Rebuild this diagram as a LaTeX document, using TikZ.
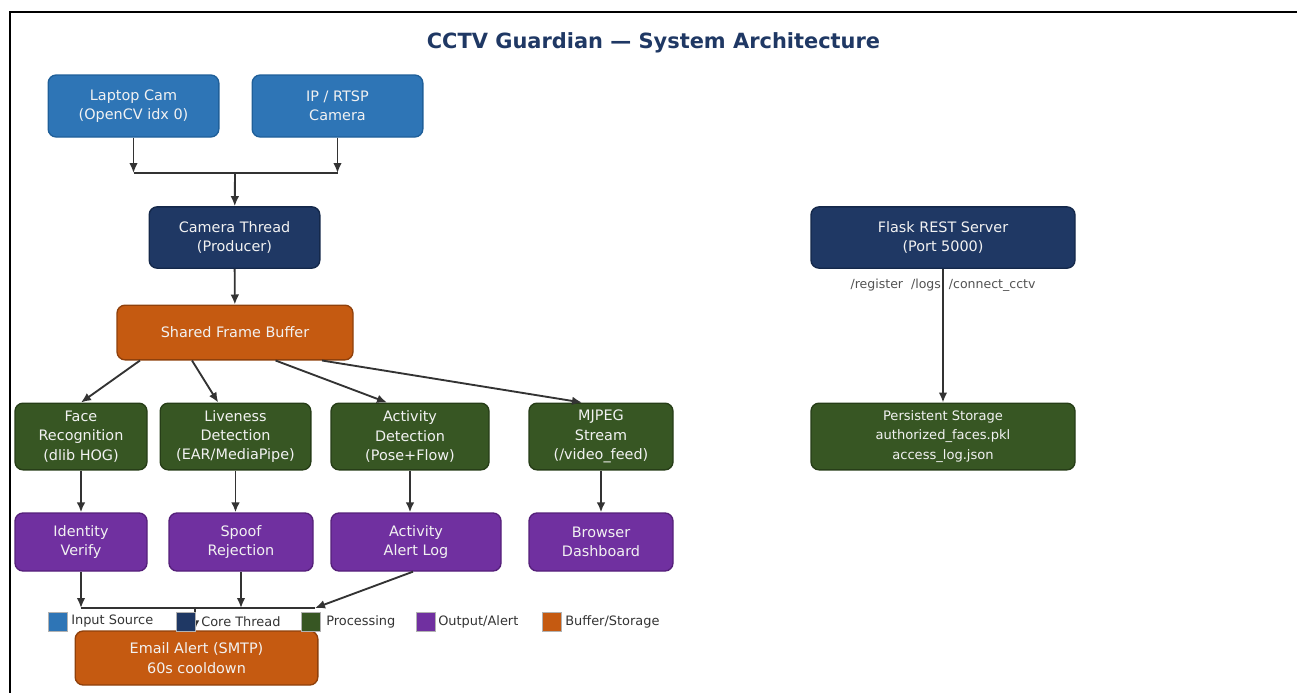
\documentclass[tikz,border=0pt]{standalone}
\usepackage{fontspec}
\setmainfont{DejaVu Sans}
\usetikzlibrary{arrows.meta}

\definecolor{insrc}{HTML}{2E75B6}
\definecolor{insrcd}{HTML}{1F5F99}
\definecolor{core}{HTML}{1F3864}
\definecolor{cored}{HTML}{14284A}
\definecolor{proc}{HTML}{375623}
\definecolor{procd}{HTML}{263D17}
\definecolor{outp}{HTML}{7030A0}
\definecolor{outpd}{HTML}{55207A}
\definecolor{buff}{HTML}{C55A11}
\definecolor{buffd}{HTML}{8F400B}
\definecolor{arrc}{HTML}{333333}

\begin{document}
\begin{tikzpicture}[x=0.75pt, y=-0.75pt,
  box/.style={draw, rounded corners=6pt, line width=1pt, text=white!95!black, align=center,
    inner sep=0pt, font=\fontsize{10.8}{14.6}\selectfont},
  src/.style={box, fill=insrc, draw=insrcd},
  thr/.style={box, fill=core, draw=cored},
  prc/.style={box, fill=proc, draw=procd},
  alr/.style={box, fill=outp, draw=outpd},
  buf/.style={box, fill=buff, draw=buffd},
  arr/.style={-{Latex[length=7.5pt,width=6.5pt]}, line width=1.4pt, draw=arrc},
  key/.style={minimum size=14pt, inner sep=0pt, draw=white!70!black, line width=0.4pt},
  keytxt/.style={anchor=west, inner sep=0pt, text=arrc, font=\fontsize{9.7}{11}\selectfont}]
\useasboundingbox (0,0) rectangle (1297,693);
\draw [line width=1.5pt] (10,693) -- (10,12) -- (1297,12);

\node[text=core, font=\fontsize{15.7}{18}\selectfont\bfseries] (title) at (653.5,42.5) {CCTV Guardian — System Architecture};

% sources and core thread
\node[src, minimum width=128pt, minimum height=46.5pt] (s1) at (133.5,106) {Laptop Cam\\(OpenCV idx 0)};
\node[src, minimum width=128pt, minimum height=46.5pt] (s2) at (337.5,106) {IP / RTSP\\Camera};
\node[thr, minimum width=128pt, minimum height=46pt] (c1) at (234.5,237.5) {Camera Thread\\(Producer)};
\node[buf, minimum width=177pt, minimum height=41pt] (b1) at (235,332.5) {Shared Frame Buffer};

% processing row
\node[prc, minimum width=99pt, minimum height=50pt] (p1) at (81,436.5) {Face\\Recognition\\(dlib HOG)};
\node[prc, minimum width=113pt, minimum height=50pt] (p2) at (235.5,436.5) {Liveness\\Detection\\(EAR/MediaPipe)};
\node[prc, minimum width=118.5pt, minimum height=50pt] (p3) at (410,436.5) {Activity\\Detection\\(Pose+Flow)};
\node[prc, minimum width=108pt, minimum height=50pt] (p4) at (601,436.5) {MJPEG\\Stream\\(/video\_feed)};

% output row
\node[alr, minimum width=99pt, minimum height=43.5pt] (o1) at (81,542) {Identity\\Verify};
\node[alr, minimum width=108pt, minimum height=43.5pt] (o2) at (241,542) {Spoof\\Rejection};
\node[alr, minimum width=127.5pt, minimum height=43.5pt] (o3) at (416,542) {Activity\\Alert Log};
\node[alr, minimum width=108pt, minimum height=43.5pt] (o4) at (601,542) {Browser\\Dashboard};

\node[buf, minimum width=182pt, minimum height=40.5pt] (e1) at (196.5,658) {Email Alert (SMTP)\\60s cooldown};

% server side
\node[thr, minimum width=198pt, minimum height=46pt] (f1) at (943,237.5) {Flask REST Server\\(Port 5000)};
\node[prc, minimum width=198pt, minimum height=50pt, font=\fontsize{9.8}{14.6}\selectfont] (d1) at (943,436.5) {Persistent Storage\\authorized\_faces.pkl\\access\_log.json};
\node[text=arrc!85!white, font=\fontsize{9.4}{11}\selectfont] (r1) at (943,285) {/register\ \ /logs\ \ /connect\_cctv};

\coordinate (j1) at (235,173);
\coordinate (bl) at (81,608);
\coordinate (br) at (315,608);
\coordinate (bm) at (195,608);

\draw [arr] (s1) -- (s1 |- j1);
\draw [arr] (s2) -- (s2 |- j1);
\draw [line width=1.4pt, arrc] (s1 |- j1) -- (s2 |- j1);
\draw [arr] (j1) -- (c1);
\draw [arr] (c1) -- (b1);
\draw [arr] ([xshift=-71.25pt]b1.south) -- (p1.north);
\draw [arr] ([xshift=-32.25pt]b1.south) -- ([xshift=-13pt]p2.north);
\draw [arr] ([xshift=30.4pt]b1.south) -- ([xshift=-17.25pt]p3.north);
\draw [arr] ([xshift=65.25pt]b1.south) -- ([xshift=-14.25pt]p4.north);
\draw [arr] (p1) -- (o1);
\draw [arr] (p2.south) -- (p2.south |- o2.north);
\draw [arr] (p3.south) -- (p3.south |- o3.north);
\draw [arr] (p4) -- (o4);
\draw [line width=1.4pt, arrc] (bl) -- (br);
\draw [arr] (o1) -- (bl);
\draw [arr] (o2) -- (o2 |- bl);
\draw [arr] ([xshift=-2.25pt]o3.south) -- (br);
\draw [arr] (bm) -- (bm |- e1.north);
\draw [arr] (f1) -- (d1);

% legend
\node[key, fill=insrc] (k1) at (57.5,621.5) {};
\node[keytxt] (t1) at (71,621.5) {Input Source};
\node[key, fill=core] (k2) at (185.5,621.5) {};
\node[keytxt] (t2) at (201,621.5) {Core Thread};
\node[key, fill=proc] (k3) at (310.5,621.5) {};
\node[keytxt] (t3) at (326,621.5) {Processing};
\node[key, fill=outp] (k4) at (425.5,621.5) {};
\node[keytxt] (t4) at (438,621.5) {Output/Alert};
\node[key, fill=buff] (k5) at (551.5,621.5) {};
\node[keytxt] (t5) at (565,621.5) {Buffer/Storage};
\end{tikzpicture}
\end{document}
